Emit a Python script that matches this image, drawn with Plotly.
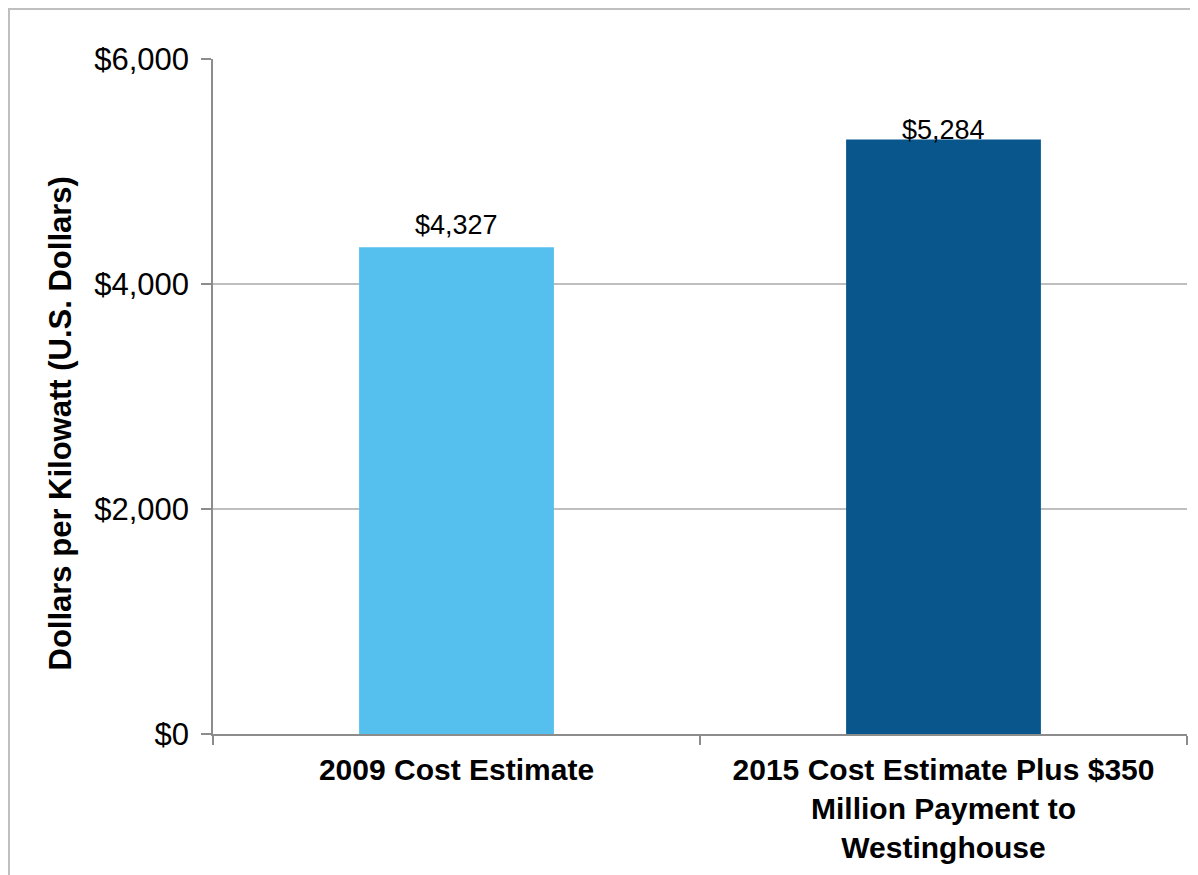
import plotly.graph_objects as go

categories = ["2009 Cost Estimate",
              "2015 Cost Estimate Plus $350<br>Million Payment to<br>Westinghouse"]
values = [4327, 5284]
value_labels = ["$4,327", "$5,284"]
bar_colors = ["#55BFEE", "#08568C"]
label_shifts = [22, 10]
tick_vals = [0, 2000, 4000, 6000]
tick_text = ["$0", "$2,000", "$4,000", "$6,000"]

FONT = "Arial, 'Liberation Sans', sans-serif"

# page has an 8px body margin; figure sized to fit the 1198x875 window
W, H = 1190, 867
L, R, T, B = 205, 11, 51, 141
pw, ph = W - L - R, H - T - B

fig = go.Figure()
fig.add_trace(go.Bar(x=categories, y=values, marker=dict(color=bar_colors, line=dict(width=0)),
                     width=0.4, hoverinfo="skip"))

for c, v, t, s in zip(categories, values, value_labels, label_shifts):
    fig.add_annotation(x=c, y=v, text=t, showarrow=False, yanchor="middle", yshift=s,
                       font=dict(family=FONT, size=27, color="#000000"))

# y-axis title
fig.add_annotation(xref="paper", yref="paper", x=0, y=0.5, xanchor="center", yanchor="middle",
                   xshift=52 - L, yshift=-27,
                   text="<b>Dollars per Kilowatt (U.S. Dollars)</b>", textangle=-90,
                   showarrow=False, font=dict(family=FONT, size=31, color="#000000"))

# outer frame lines
px = lambda X: (X - L) / pw
py = lambda Y: (H - B - Y) / ph
fig.add_shape(type="line", xref="paper", yref="paper", x0=px(1), x1=px(1), y0=py(H), y1=py(0),
              line=dict(color="#BFBFBF", width=2))
fig.add_shape(type="line", xref="paper", yref="paper", x0=px(0), x1=px(W), y0=py(1), y1=py(1),
              line=dict(color="#BFBFBF", width=2))

fig.update_layout(
    width=W, height=H,
    margin=dict(l=L, r=R, t=T, b=B),
    paper_bgcolor="white", plot_bgcolor="white",
    showlegend=False,
    bargap=0.6,
    font=dict(family=FONT, color="#000000"),
)
fig.update_xaxes(
    type="category", tickson="boundaries", ticks="outside", ticklen=9, tickcolor="#8C8C8C",
    tickwidth=2, showline=True, linecolor="#8C8C8C", linewidth=2, showgrid=False,
    tickfont=dict(family=FONT, size=30, color="#000000"),
    tickprefix="<b>", ticksuffix="</b>",
    ticklabelstandoff=8,
)
fig.update_yaxes(
    range=[0, 6000], tickvals=tick_vals, ticktext=tick_text, ticks="outside", ticklen=10,
    tickcolor="#8C8C8C", tickwidth=1.5, showline=True, linecolor="#8C8C8C", linewidth=1.5,
    showgrid=True, gridcolor="#BFBFBF", gridwidth=2, zeroline=False,
    tickfont=dict(family=FONT, size=31, color="#000000"),
    ticklabelstandoff=6,
)

fig.write_html("out.html")
